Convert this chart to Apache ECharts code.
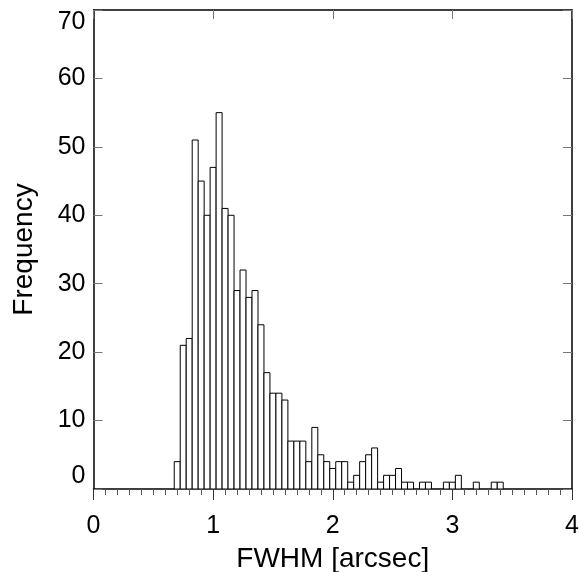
<!DOCTYPE html>
<html>
<head>
<meta charset="utf-8">
<script src="https://cdn.jsdelivr.net/npm/echarts@6/dist/echarts.min.js"></script>
<style>html,body{margin:0;padding:0;background:#fff;}#c{width:579px;height:572px;}</style>
</head>
<body>
<div id="c"></div>
<script>
// Histogram data (bin centers in arcsec, counts)
var binCenters = [0.70,0.75,0.80,0.85,0.90,0.95,1.00,1.05,1.10,1.15,1.20,1.25,1.30,1.35,1.40,1.45,1.50,1.55,1.60,1.65,1.70,1.75,1.80,1.85,1.90,1.95,2.00,2.05,2.10,2.15,2.20,2.25,2.30,2.35,2.40,2.45,2.50,2.55,2.60,2.65,2.70,2.75,2.80,2.85,2.90,2.95,3.00,3.05,3.10,3.15,3.20,3.25,3.30,3.35,3.40];
var counts = [4,21,22,51,45,40,47,55,41,40,29,32,28,29,24,17,14,14,13,7,7,7,4,9,5,4,3,4,4,1,2,4,5,6,1,2,2,3,1,1,0,1,1,0,0,1,1,2,0,0,1,0,0,1,1];
var binWidth = 0.05;
var xTicks = [0,1,2,3,4];
var yTicks = [0,10,20,30,40,50,60,70];

var data = [];
for (var i = 0; i < binCenters.length; i++) {
  if (counts[i] > 0) data.push([binCenters[i], counts[i]]);
}

var FONT = 'Liberation Sans, Arial, sans-serif';
var chart = echarts.init(document.getElementById('c'), null, {renderer: 'canvas'});
chart.setOption({
  animation: false,
  backgroundColor: '#fff',
  grid: {left: 93.5, right: 7, top: 10, bottom: 83, containLabel: false, outerBoundsMode: 'none'},
  xAxis: [{
    type: 'value', min: xTicks[0], max: xTicks[xTicks.length-1], interval: 1,
    position: 'bottom',
    name: 'FWHM [arcsec]', nameLocation: 'middle', nameGap: 56, nameMoveOverlap: false,
    nameTextStyle: {fontFamily: FONT, fontSize: 28, color: '#000'},
    axisLine: {show: true, onZero: false, lineStyle: {color: '#000', width: 1.5}},
    axisTick: {show: true, inside: false, length: 11, lineStyle: {color: '#333', width: 1}},
    minorTick: {show: true, splitNumber: 10, length: 6, lineStyle: {color: '#555', width: 1}},
    axisLabel: {show: true, margin: 25, fontFamily: FONT, fontSize: 25, color: '#000'},
    splitLine: {show: false}
  }, {
    type: 'value', min: xTicks[0], max: xTicks[xTicks.length-1], interval: 1,
    position: 'top',
    axisLine: {show: true, onZero: false, lineStyle: {color: '#000', width: 1.5}},
    axisTick: {show: true, inside: true, length: 9, lineStyle: {color: '#777', width: 1}},
    axisLabel: {show: false},
    splitLine: {show: false}
  }],
  yAxis: [{
    type: 'value', min: yTicks[0], max: yTicks[yTicks.length-1], interval: 10,
    position: 'left',
    name: 'Frequency', nameLocation: 'middle', nameGap: 55, nameRotate: 90, nameMoveOverlap: false,
    nameTextStyle: {fontFamily: FONT, fontSize: 28, color: '#000'},
    axisLine: {show: true, onZero: false, lineStyle: {color: '#000', width: 1.5}},
    axisTick: {show: true, inside: true, length: 9, lineStyle: {color: '#777', width: 1}},
    axisLabel: {show: true, margin: 8, fontFamily: FONT, fontSize: 25, color: '#000',
      verticalAlignMinLabel: 'bottom', verticalAlignMaxLabel: 'top'},
    splitLine: {show: false}
  }, {
    type: 'value', min: yTicks[0], max: yTicks[yTicks.length-1], interval: 10,
    position: 'right',
    axisLine: {show: true, onZero: false, lineStyle: {color: '#000', width: 1.5}},
    axisTick: {show: true, inside: true, length: 9, lineStyle: {color: '#777', width: 1}},
    axisLabel: {show: false},
    splitLine: {show: false}
  }],
  series: [{
    type: 'custom',
    xAxisIndex: 0, yAxisIndex: 0,
    data: data,
    clip: true,
    renderItem: function (params, api) {
      var xc = api.value(0), v = api.value(1);
      var p0 = api.coord([xc - binWidth/2, v]);
      var p1 = api.coord([xc + binWidth/2, 0]);
      return {
        type: 'rect',
        shape: {x: p0[0], y: p0[1], width: p1[0] - p0[0], height: p1[1] - p0[1]},
        style: {fill: '#fff', stroke: '#000', lineWidth: 1}
      };
    }
  }]
});
</script>
</body>
</html>
